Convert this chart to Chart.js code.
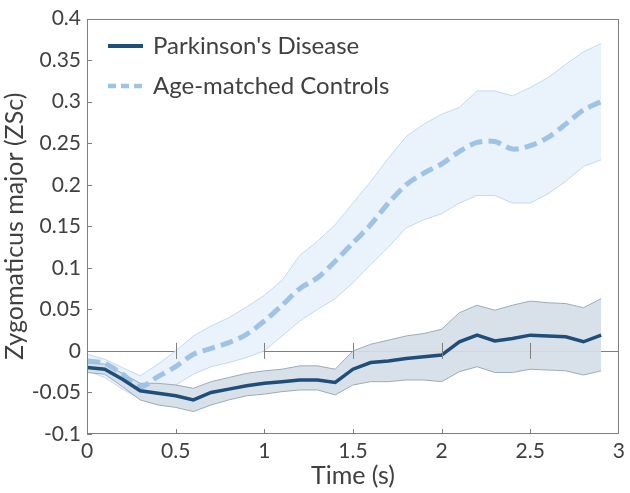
<!DOCTYPE html>
<html>
<head>
<meta charset="utf-8">
<script src="https://cdn.jsdelivr.net/npm/chart.js@4/dist/chart.umd.min.js"></script>
<style>
html,body{margin:0;padding:0;background:#fff;}
#wrap{width:630px;height:493px;position:relative;}
</style>
</head>
<body>
<div id="wrap"><canvas id="c" width="630" height="493"></canvas></div>
<script>
const time = [0,0.1,0.2,0.3,0.4,0.5,0.6,0.7,0.8,0.9,1.0,1.1,1.2,1.3,1.4,1.5,1.6,1.7,1.8,1.9,2.0,2.1,2.2,2.3,2.4,2.5,2.6,2.7,2.8,2.9];
const pdMean  = [-0.020,-0.022,-0.034,-0.048,-0.051,-0.054,-0.059,-0.050,-0.046,-0.042,-0.039,-0.037,-0.035,-0.035,-0.038,-0.022,-0.014,-0.012,-0.009,-0.007,-0.005,0.011,0.019,0.012,0.015,0.019,0.018,0.017,0.011,0.019];
const pdUpper = [-0.014,-0.016,-0.027,-0.039,-0.039,-0.041,-0.045,-0.037,-0.032,-0.027,-0.024,-0.022,-0.018,-0.018,-0.022,0.000,0.008,0.013,0.018,0.021,0.026,0.046,0.055,0.049,0.055,0.060,0.058,0.057,0.052,0.063];
const pdLower = [-0.026,-0.028,-0.043,-0.059,-0.065,-0.068,-0.073,-0.065,-0.059,-0.054,-0.052,-0.049,-0.047,-0.047,-0.053,-0.041,-0.037,-0.037,-0.035,-0.035,-0.037,-0.025,-0.019,-0.026,-0.026,-0.022,-0.023,-0.024,-0.029,-0.024];
const ctrlMean  = [-0.012,-0.015,-0.028,-0.043,-0.031,-0.019,-0.004,0.003,0.010,0.020,0.036,0.055,0.075,0.088,0.108,0.130,0.152,0.178,0.200,0.214,0.225,0.240,0.251,0.252,0.243,0.247,0.257,0.273,0.290,0.300];
const ctrlUpper = [-0.004,-0.010,-0.020,-0.030,-0.016,0.000,0.018,0.030,0.040,0.053,0.067,0.085,0.115,0.132,0.152,0.178,0.204,0.232,0.258,0.273,0.285,0.293,0.313,0.313,0.307,0.317,0.329,0.345,0.360,0.370];
const ctrlLower = [-0.024,-0.032,-0.046,-0.058,-0.047,-0.041,-0.028,-0.019,-0.014,-0.008,0.000,0.018,0.036,0.050,0.063,0.082,0.104,0.125,0.148,0.158,0.165,0.178,0.187,0.187,0.178,0.178,0.189,0.204,0.222,0.230];
const seriesNames = ["Parkinson's Disease", "Age-matched Controls"];
const xTicks = [0,0.5,1,1.5,2,2.5,3];

const FONT = 'Lato, "Open Sans", sans-serif';
const TEXT = '#404040';
const AXIS = '#7f7f7f';
const PD_LINE = '#1f4e79';
const PD_FILL = 'rgba(213,222,232,0.92)';
const PD_EDGE = '#9dabb9';
const C_LINE = '#9dc3e6';
const C_FILL = '#eaf2fb';
const C_EDGE = '#c6d9ec';

const pts = arr => arr.map((v,i)=>({x:time[i], y:v}));

const PAD_L = 0, PAD_T = 13, PAD_R = 8, PAD_B = 0;
const CA_L = 87, CA_B = 434;

const decor = {
  id:'decor',
  beforeDatasetsDraw(chart){
    const {ctx, chartArea:a, scales:{y}} = chart;
    const y0 = Math.round(y.getPixelForValue(0))+0.5;
    ctx.save();
    ctx.strokeStyle = AXIS; ctx.lineWidth = 1;
    ctx.beginPath(); ctx.moveTo(a.left,y0); ctx.lineTo(a.right,y0); ctx.stroke();
    ctx.restore();
  },
  afterDatasetsDraw(chart){
    const {ctx, chartArea:a, scales:{x,y}} = chart;
    ctx.save();
    ctx.strokeStyle = AXIS; ctx.lineWidth = 1;
    ctx.strokeRect(Math.round(a.left)+0.5, Math.round(a.top)+0.5, Math.round(a.right-a.left)-1, Math.round(a.bottom-a.top)-1);
    ctx.beginPath();
    y.ticks.forEach(t=>{
      const py = Math.round(y.getPixelForValue(t.value))+0.5;
      ctx.moveTo(a.left, py); ctx.lineTo(a.left+5, py);
    });
    const y0 = y.getPixelForValue(0);
    x.ticks.forEach(t=>{
      if (t.value<=0 || t.value>=3) return;
      const px = Math.round(x.getPixelForValue(t.value))+0.5;
      ctx.moveTo(px, a.bottom); ctx.lineTo(px, a.bottom-5);
      ctx.moveTo(px, y0-8); ctx.lineTo(px, y0+8);
    });
    ctx.stroke();
    const items = [
      {label:seriesNames[0], color:PD_LINE, width:4, dash:[], y:46},
      {label:seriesNames[1], color:C_LINE, width:4.5, dash:[8,5], y:86}
    ];
    ctx.font = '24px ' + FONT;
    ctx.textBaseline = 'middle';
    items.forEach(it=>{
      ctx.beginPath();
      ctx.setLineDash(it.dash);
      ctx.strokeStyle = it.color; ctx.lineWidth = it.width;
      ctx.moveTo(108, it.y); ctx.lineTo(143, it.y); ctx.stroke();
      ctx.setLineDash([]);
      ctx.fillStyle = TEXT;
      ctx.fillText(it.label, 153, it.y);
    });
    ctx.restore();
  }
};

new Chart(document.getElementById('c'), {
  type:'line',
  data:{
    datasets:[
      {label:'ctrlUpper', data:pts(ctrlUpper), fill:{target:1}, backgroundColor:C_FILL, borderColor:C_EDGE, borderWidth:1, pointRadius:0, order:5},
      {label:'ctrlLower', data:pts(ctrlLower), fill:false, borderColor:C_EDGE, borderWidth:1, pointRadius:0, order:4},
      {label:'pdUpper', data:pts(pdUpper), fill:{target:3}, backgroundColor:PD_FILL, borderColor:PD_EDGE, borderWidth:1, pointRadius:0, order:3},
      {label:'pdLower', data:pts(pdLower), fill:false, borderColor:PD_EDGE, borderWidth:1, pointRadius:0, order:2},
      {label:seriesNames[1], data:pts(ctrlMean), fill:false, borderColor:C_LINE, borderWidth:5, borderDash:[13,6], tension:0.3, pointRadius:0, order:1},
      {label:seriesNames[0], data:pts(pdMean), fill:false, borderColor:PD_LINE, borderWidth:3.5, pointRadius:0, order:0}
    ]
  },
  options:{
    responsive:false,
    animation:false,
    layout:{padding:{left:PAD_L, top:PAD_T, right:PAD_R, bottom:PAD_B}},
    plugins:{legend:{display:false}, tooltip:{enabled:false}},
    scales:{
      x:{
        type:'linear', min:0, max:3,
        afterBuildTicks(s){ s.ticks = xTicks.map(v=>({value:v})); },
        afterFit(s){ s.height = 493 - CA_B - PAD_B; },
        grid:{display:false, drawTicks:false},
        border:{display:false},
        ticks:{color:TEXT, font:{family:FONT, size:21}, padding:5, maxRotation:0,
               callback:v=>String(v)},
        title:{display:true, text:'Time (s)', color:TEXT, font:{family:FONT, size:25}, padding:{top:0,bottom:2}}
      },
      y:{
        type:'linear', min:-0.1, max:0.4,
        ticks:{stepSize:0.05, color:TEXT, font:{family:FONT, size:21}, padding:6,
               callback:v=>String(Number(v.toFixed(2)))},
        afterFit(s){ s.width = CA_L - PAD_L; },
        grid:{display:false, drawTicks:false},
        border:{display:false},
        title:{display:true, text:'Zygomaticus major (ZSc)', color:TEXT, font:{family:FONT, size:25}, padding:{top:0,bottom:0}}
      }
    }
  },
  plugins:[decor]
});
</script>
</body>
</html>
